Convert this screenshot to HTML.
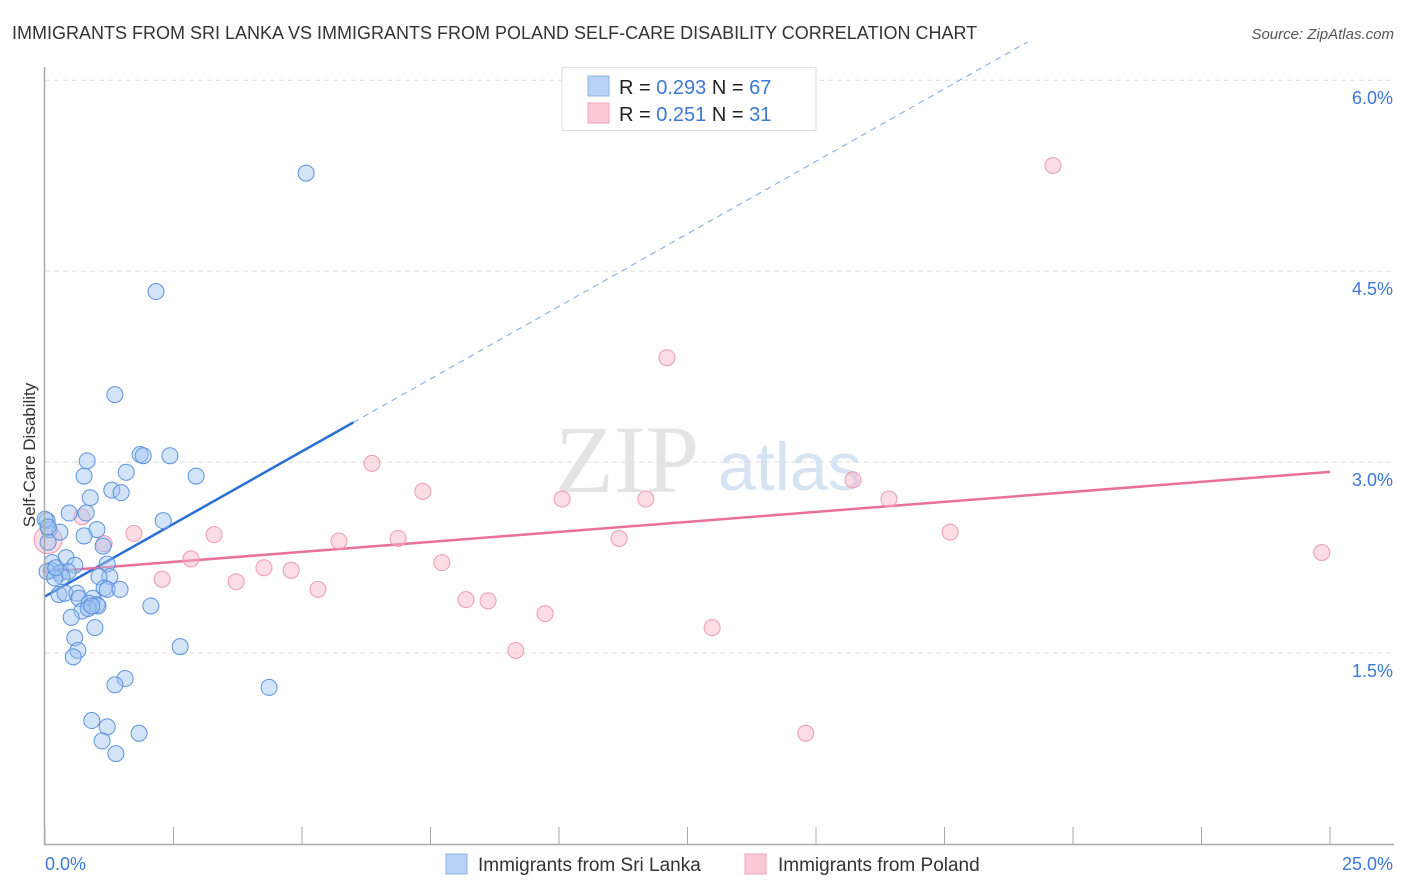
<!DOCTYPE html>
<html><head><meta charset="utf-8"><style>
body{margin:0;background:#fff;font-family:"Liberation Sans",sans-serif;}
svg{display:block}
</style></head><body>
<svg id="chart" width="1406" height="892">
<text x="12" y="39" font-size="18" fill="#333">IMMIGRANTS FROM SRI LANKA VS IMMIGRANTS FROM POLAND SELF-CARE DISABILITY CORRELATION CHART</text>
<text x="1394" y="39" font-size="15" fill="#555" font-style="italic" text-anchor="end">Source: ZipAtlas.com</text>
<text x="35" y="455" font-size="17" fill="#333" text-anchor="middle" transform="rotate(-90 35 455)">Self-Care Disability</text>
<text x="555" y="492" font-size="96" fill="#e4e4e4" font-family="Liberation Serif,serif">ZIP</text>
<text x="718" y="490" font-size="68" fill="#d6e3f3">atlas</text>
<g id="grid"></g><g id="trend"></g><g id="pts"></g>
<line x1="44.5" y1="67" x2="44.5" y2="845" stroke="#aaa" stroke-width="1.5"/>
<line x1="44" y1="844.5" x2="1394" y2="844.5" stroke="#aaa" stroke-width="1.5"/>
<g>
<rect x="562" y="67.5" width="254" height="63" fill="#fff" stroke="#ddd"/>
<rect x="588" y="76" width="21" height="20" fill="#b7d2f5" stroke="#8db4ea"/>
<rect x="588" y="103" width="21" height="20" fill="#fbc9d7" stroke="#f0a3ba"/>
<text font-size="20" fill="#222" x="619" y="94">R = <tspan fill="#3b78d8">0.293</tspan>   N = <tspan fill="#3b78d8">67</tspan></text>
<text font-size="20" fill="#222" x="619" y="121">R =  <tspan fill="#3b78d8">0.251</tspan>   N =  <tspan fill="#3b78d8">31</tspan></text>
</g>
<g>
<rect x="446" y="854" width="21" height="20" fill="#b7d2f5" stroke="#8db4ea"/>
<text x="478" y="871" font-size="19" fill="#333">Immigrants from Sri Lanka</text>
<rect x="745" y="854" width="21" height="20" fill="#fbc9d7" stroke="#f0a3ba"/>
<text x="778" y="871" font-size="19" fill="#333">Immigrants from Poland</text>
</g>
<text x="45" y="870" font-size="18" fill="#3b78d8">0.0%</text>
<text x="1393" y="870" font-size="18" fill="#3b78d8" text-anchor="end">25.0%</text>
</svg>
<script>
const yTicks=[1.5,3.0,4.5,6.0];
const xTickVals=[0,2.5,5,7.5,10,12.5,15,17.5,20,22.5,25];
const blueX=[5.08,2.16,1.36,1.85,1.91,2.43,0.82,0.76,1.58,2.94,1.30,1.48,0.88,0.47,0.80,2.30,1.01,0.04,0.08,0.29,0.76,1.13,0.06,0.41,0.14,0.58,1.21,0.12,0.29,0.45,0.04,1.26,1.05,0.33,0.19,1.15,1.21,0.27,0.39,0.62,0.93,0.66,0.86,1.01,2.06,1.03,0.72,0.51,0.97,0.58,2.63,0.64,0.55,1.56,1.36,4.36,0.91,1.21,1.11,1.83,1.38,0.84,0.91,0.21,1.46,0.00,0.06];
const blueY=[5.27,4.34,3.53,3.06,3.05,3.05,3.01,2.89,2.92,2.89,2.78,2.76,2.72,2.60,2.60,2.54,2.47,2.54,2.47,2.45,2.42,2.34,2.37,2.25,2.21,2.19,2.20,2.15,2.13,2.14,2.14,2.10,2.10,2.10,2.09,2.01,2.00,1.96,1.97,1.97,1.93,1.93,1.89,1.88,1.87,1.87,1.83,1.78,1.70,1.62,1.55,1.52,1.47,1.30,1.25,1.23,0.97,0.92,0.81,0.87,0.71,1.85,1.87,2.17,2.00,2.55,2.49];
const pinkX=[19.61,12.10,6.36,7.35,10.06,11.69,15.72,16.42,17.61,24.84,11.17,6.87,5.72,3.29,1.73,2.84,4.26,4.79,2.28,3.72,5.31,7.72,8.19,8.62,9.73,12.98,9.16,14.80,0.06,0.72,1.15];
const pinkY=[5.33,3.82,2.99,2.77,2.71,2.71,2.86,2.71,2.45,2.29,2.40,2.40,2.38,2.43,2.44,2.24,2.17,2.15,2.08,2.06,2.00,2.21,1.92,1.91,1.81,1.70,1.52,0.87,2.39,2.57,2.36];
const NS='http://www.w3.org/2000/svg';
const X=v=>45+v/25*1285, Y=v=>844-v*127.3;
function mk(t,a,p){const e=document.createElementNS(NS,t);for(const k in a)e.setAttribute(k,a[k]);document.getElementById(p).appendChild(e);return e;}
yTicks.forEach(t=>{
 const l=mk('line',{x1:45,x2:1394,y1:Y(t),y2:Y(t),stroke:'#ddd','stroke-dasharray':'5,4'},'grid');
 
 
 const tx=mk('text',{x:1393,y:Y(t)+24,'font-size':18,fill:'#3b78d8','text-anchor':'end'},'grid');
 tx.textContent=t.toFixed(1)+'%';
 
 
});
xTickVals.forEach(t=>{
 const l=mk('line',{x1:X(t),x2:X(t),y1:827,y2:844,stroke:'#aaa'},'grid');
 
 
});
function fit(xs,ys){const n=xs.length;let mx=0,my=0;xs.forEach((x,i)=>{mx+=x;my+=ys[i]});mx/=n;my/=n;let sxy=0,sxx=0;xs.forEach((x,i)=>{sxy+=(x-mx)*(ys[i]-my);sxx+=(x-mx)**2});const b=sxy/sxx;return [my-b*mx,b];}
const [ba,bb]=fit(blueX,blueY),[pa,pb]=fit(pinkX,pinkY);
let l=mk('line',{x1:X(0),y1:Y(ba),x2:X(6),y2:Y(ba+bb*6),stroke:'#2a6fd6','stroke-width':2.5},'trend');


const xe=Math.min(25,(6.3-ba)/bb);
l=mk('line',{x1:X(6),y1:Y(ba+bb*6),x2:X(xe),y2:Y(ba+bb*xe),stroke:'#7aa6e6','stroke-width':1,'stroke-dasharray':'6,5'},'trend');


l=mk('line',{x1:X(0),y1:Y(pa),x2:X(25),y2:Y(pa+pb*25),stroke:'#e8709a','stroke-width':2.5},'trend');


pinkX.forEach((x,i)=>{
 const c=mk('circle',{cx:X(x),cy:Y(pinkY[i]),r:i==28?14:8,fill:'rgba(248,180,200,0.45)',stroke:'#ee9ab4','stroke-width':1},'pts');
 
 
});
blueX.forEach((x,i)=>{
 const c=mk('circle',{cx:X(x),cy:Y(blueY[i]),r:8,fill:'rgba(160,195,240,0.45)',stroke:'#5a92e0','stroke-width':1},'pts');
 
 
});
</script>
</body></html>
